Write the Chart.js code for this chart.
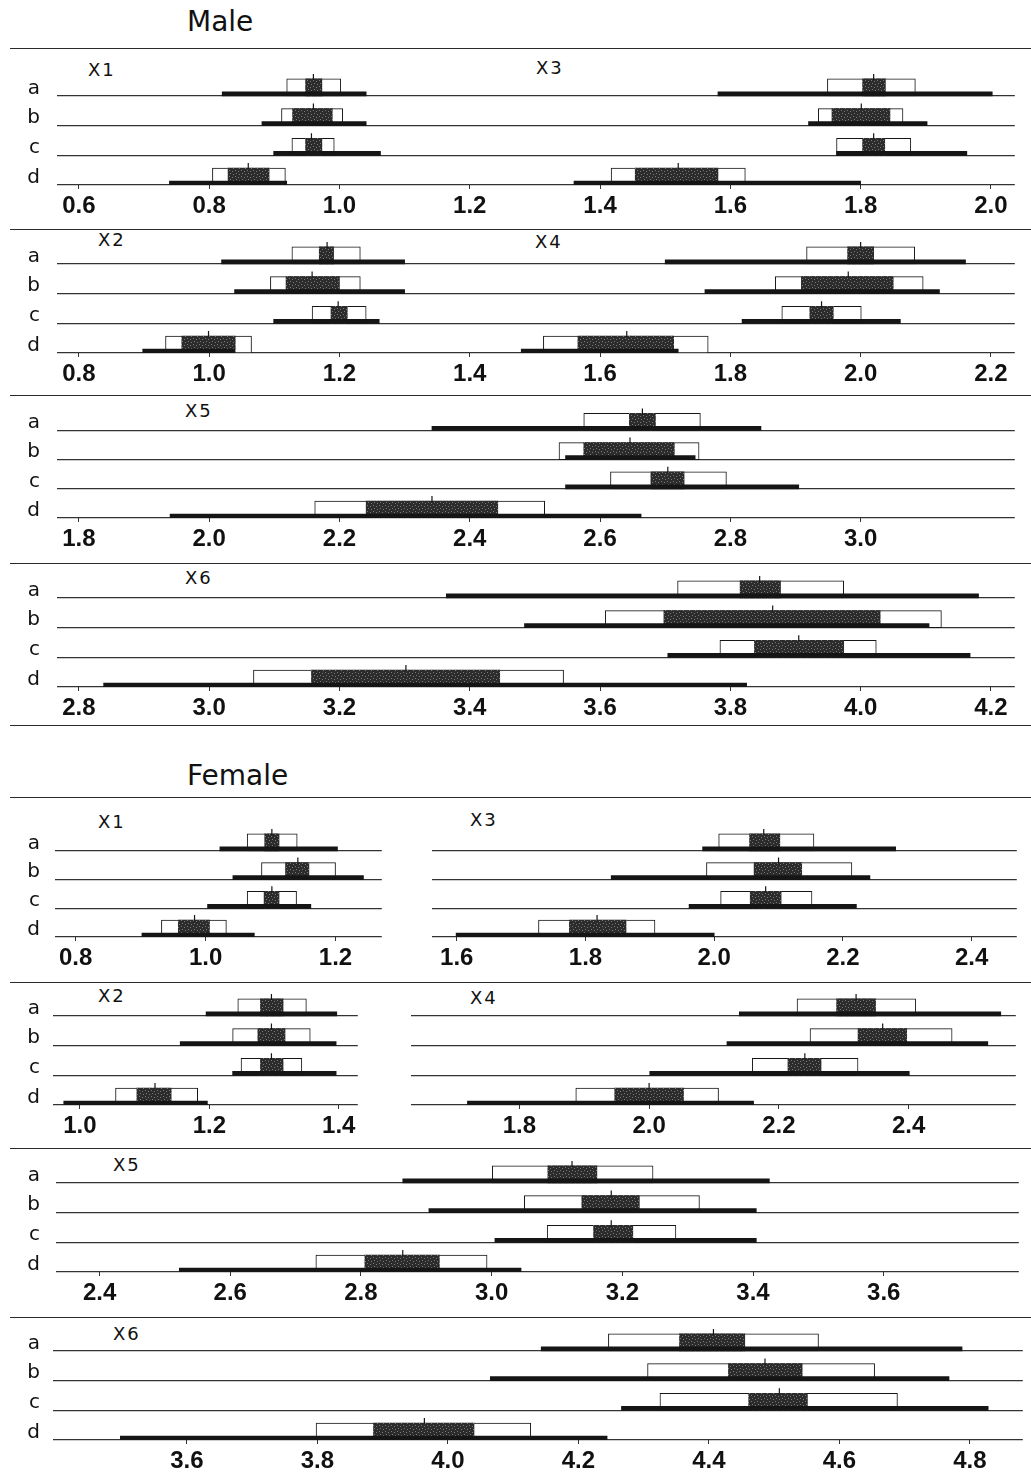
<!DOCTYPE html>
<html>
<head>
<meta charset="utf-8">
<script src="https://cdn.jsdelivr.net/npm/chart.js@4.4.1/dist/chart.umd.min.js"></script>
<style>
  html, body { margin: 0; padding: 0; background: #fff; }
  #page { position: relative; width: 1031px; height: 1479px; overflow: hidden; background: #fff; }
  .rule { position: absolute; left: 10px; width: 1021px; height: 0; border-top: 1.5px solid #2a2a2a; }
  .title { position: absolute; font-family: "DejaVu Sans"; font-size: 28px; line-height: 34px; color: #111; }
  .var { position: absolute; font-family: "DejaVu Sans"; font-size: 18px; line-height: 20px; color: #111; letter-spacing: 2px; }
  canvas { position: absolute; }
</style>
</head>
<body>
<div id="page"></div>
<script>
const rowLabels = ['a', 'b', 'c', 'd']

// ---- Male ----
const maleX1Range = [[0.820, 1.041], [0.881, 1.041], [0.899, 1.063], [0.739, 0.919]]
const maleX1Box   = [[0.919, 1.002], [0.911, 1.005], [0.927, 0.992], [0.805, 0.917]]
const maleX1Band  = [[0.948, 0.973], [0.928, 0.989], [0.948, 0.973], [0.829, 0.892]]
const maleX1Mean  = [0.960, 0.960, 0.957, 0.860]

const maleX3Range = [[1.581, 2.002], [1.720, 1.902], [1.763, 1.963], [1.360, 1.800]]
const maleX3Box   = [[1.749, 1.884], [1.735, 1.865], [1.763, 1.877], [1.417, 1.623]]
const maleX3Band  = [[1.803, 1.838], [1.756, 1.845], [1.803, 1.837], [1.454, 1.581]]
const maleX3Mean  = [1.820, 1.801, 1.820, 1.520]

const maleX2Range = [[1.019, 1.300], [1.039, 1.300], [1.099, 1.261], [0.898, 1.039]]
const maleX2Box   = [[1.127, 1.232], [1.094, 1.232], [1.158, 1.241], [0.933, 1.065]]
const maleX2Band  = [[1.169, 1.191], [1.118, 1.200], [1.187, 1.212], [0.958, 1.040]]
const maleX2Mean  = [1.181, 1.158, 1.198, 0.999]

const maleX4Range = [[1.700, 2.161], [1.761, 2.121], [1.818, 2.061], [1.479, 1.720]]
const maleX4Box   = [[1.917, 2.083], [1.869, 2.096], [1.879, 2.001], [1.513, 1.766]]
const maleX4Band  = [[1.980, 2.020], [1.909, 2.050], [1.922, 1.958], [1.566, 1.713]]
const maleX4Mean  = [2.000, 1.981, 1.940, 1.641]

const maleX5Range = [[2.342, 2.847], [2.547, 2.746], [2.547, 2.905], [1.940, 2.663]]
const maleX5Box   = [[2.575, 2.754], [2.537, 2.752], [2.616, 2.794], [2.162, 2.515]]
const maleX5Band  = [[2.645, 2.685], [2.575, 2.714], [2.678, 2.729], [2.241, 2.443]]
const maleX5Mean  = [2.665, 2.646, 2.704, 2.342]

const maleX6Range = [[3.364, 4.181], [3.484, 4.105], [3.704, 4.168], [2.838, 3.825]]
const maleX6Box   = [[3.719, 3.974], [3.608, 4.124], [3.784, 4.024], [3.068, 3.544]]
const maleX6Band  = [[3.815, 3.877], [3.698, 4.030], [3.837, 3.974], [3.157, 3.446]]
const maleX6Mean  = [3.845, 3.865, 3.905, 3.302]

// ---- Female ----
const femaleX1Range = [[1.022, 1.203], [1.042, 1.243], [1.003, 1.162], [0.902, 1.075]]
const femaleX1Box   = [[1.064, 1.141], [1.086, 1.200], [1.064, 1.140], [0.932, 1.032]]
const femaleX1Band  = [[1.091, 1.113], [1.123, 1.159], [1.090, 1.113], [0.958, 1.006]]
const femaleX1Mean  = [1.102, 1.142, 1.102, 0.983]

const femaleX3Range = [[1.982, 2.282], [1.840, 2.242], [1.961, 2.221], [1.599, 2.000]]
const femaleX3Box   = [[2.007, 2.155], [1.988, 2.214], [2.010, 2.152], [1.727, 1.908]]
const femaleX3Band  = [[2.055, 2.102], [2.062, 2.136], [2.056, 2.104], [1.775, 1.863]]
const femaleX3Mean  = [2.077, 2.100, 2.080, 1.818]

const femaleX2Range = [[1.195, 1.397], [1.155, 1.396], [1.236, 1.396], [0.975, 1.197]]
const femaleX2Box   = [[1.244, 1.350], [1.236, 1.356], [1.249, 1.343], [1.055, 1.182]]
const femaleX2Band  = [[1.279, 1.314], [1.275, 1.317], [1.279, 1.314], [1.088, 1.141]]
const femaleX2Mean  = [1.296, 1.296, 1.296, 1.116]

const femaleX4Range = [[2.139, 2.542], [2.120, 2.522], [2.001, 2.401], [1.720, 2.161]]
const femaleX4Box   = [[2.228, 2.411], [2.248, 2.467], [2.159, 2.322], [1.887, 2.107]]
const femaleX4Band  = [[2.289, 2.349], [2.322, 2.397], [2.214, 2.265], [1.947, 2.053]]
const femaleX4Mean  = [2.319, 2.360, 2.240, 2.000]

const femaleX5Range = [[2.864, 3.425], [2.904, 3.405], [3.005, 3.405], [2.522, 3.045]]
const femaleX5Box   = [[3.001, 3.247], [3.050, 3.318], [3.085, 3.282], [2.731, 2.993]]
const femaleX5Band  = [[3.086, 3.161], [3.138, 3.226], [3.156, 3.216], [2.806, 2.920]]
const femaleX5Mean  = [3.123, 3.183, 3.183, 2.864]

const femaleX6Range = [[4.143, 4.788], [4.065, 4.768], [4.266, 4.828], [3.498, 4.244]]
const femaleX6Box   = [[4.246, 4.568], [4.306, 4.654], [4.325, 4.689], [3.798, 4.127]]
const femaleX6Band  = [[4.355, 4.455], [4.430, 4.543], [4.461, 4.551], [3.886, 4.040]]
const femaleX6Mean  = [4.407, 4.486, 4.508, 3.964]

// tick labels
const maleTicks12 = [0.6, 0.8, 1.0, 1.2, 1.4, 1.6, 1.8, 2.0]
const maleTicks24 = [0.8, 1.0, 1.2, 1.4, 1.6, 1.8, 2.0, 2.2]
const maleTicks5  = [1.8, 2.0, 2.2, 2.4, 2.6, 2.8, 3.0]
const maleTicks6  = [2.8, 3.0, 3.2, 3.4, 3.6, 3.8, 4.0, 4.2]
const femaleTicks1 = [0.8, 1.0, 1.2]
const femaleTicks3 = [1.6, 1.8, 2.0, 2.2, 2.4]
const femaleTicks2 = [1.0, 1.2, 1.4]
const femaleTicks4 = [1.8, 2.0, 2.2, 2.4]
const femaleTicks5 = [2.4, 2.6, 2.8, 3.0, 3.2, 3.4, 3.6]
const femaleTicks6 = [3.6, 3.8, 4.0, 4.2, 4.4, 4.6, 4.8]

const ink = '#151515'
const axisH = 44

const page = document.getElementById('page')

function addText(cls, text, left, centerY, lh) {
  const d = document.createElement('div')
  d.className = cls
  d.textContent = text
  d.style.left = left + 'px'
  d.style.top = (centerY - lh / 2) + 'px'
  page.appendChild(d)
}

function addRule(y) {
  const d = document.createElement('div')
  d.className = 'rule'
  d.style.top = y + 'px'
  page.appendChild(d)
}

function stipple(ctx) {
  const c = document.createElement('canvas')
  c.width = 6; c.height = 6
  const g = c.getContext('2d')
  g.fillStyle = '#2c2c2c'
  g.fillRect(0, 0, 6, 6)
  g.fillStyle = '#7a7a7a'
  ;[[1, 1], [4, 2], [2, 4], [5, 5]].forEach(([x, y]) => g.fillRect(x, y, 1, 1))
  return ctx.createPattern(c, 'repeat')
}

// push every mark from the category centre down onto its row baseline
const liftPlugin = {
  id: 'lift',
  afterDatasetsUpdate(chart) {
    const y = chart.scales.y
    const half = (y.getPixelForValue(1) - y.getPixelForValue(0)) / 2
    chart.data.datasets.forEach((ds, i) => {
      chart.getDatasetMeta(i).data.forEach(el => { el.y = el.y + half - ds.lift })
    })
  }
}

function seriesSets(range, box, band, mean, pattern) {
  return [
    { type: 'bar', data: box, backgroundColor: '#fff', borderColor: ink, borderWidth: 1,
      borderSkipped: false, barThickness: 17, lift: 8.5, order: 4 },
    { type: 'bar', data: band, backgroundColor: pattern, borderWidth: 0,
      barThickness: 17, lift: 8.5, order: 3 },
    { type: 'bar', data: range, backgroundColor: ink, borderWidth: 0,
      barThickness: 4, lift: 2, order: 2 },
    { type: 'scatter', data: mean.map((m, i) => ({ x: m, y: rowLabels[i] })),
      pointStyle: 'line', rotation: 90, radius: 3, borderColor: ink, borderWidth: 1.2,
      lift: 19, order: 1 }
  ]
}

function makeChart(p) {
  const left = p.yLabels ? 0 : p.cl
  const top = p.bottom - 4 * p.rowH
  const w = p.cr - left
  const h = 4 * p.rowH + axisH
  const canvas = document.createElement('canvas')
  canvas.width = w; canvas.height = h
  canvas.style.left = left + 'px'
  canvas.style.top = top + 'px'
  canvas.style.width = w + 'px'
  canvas.style.height = h + 'px'
  page.appendChild(canvas)
  const ctx = canvas.getContext('2d')
  const pattern = stipple(ctx)

  const min = p.ref[0] + (p.cl - p.ref[1]) / p.k
  const max = p.ref[0] + (p.cr - p.ref[1]) / p.k

  new Chart(ctx, {
    type: 'bar',
    data: {
      labels: rowLabels,
      datasets: p.series.flatMap(s => seriesSets(...s, pattern))
    },
    plugins: [liftPlugin],
    options: {
      responsive: false,
      animation: false,
      events: [],
      indexAxis: 'y',
      layout: { padding: 0 },
      datasets: { bar: { grouped: false } },
      plugins: { legend: { display: false }, tooltip: { enabled: false } },
      scales: {
        x: {
          type: 'linear',
          min: min,
          max: max,
          afterBuildTicks: s => { s.ticks = p.ticks.map(v => ({ value: v })) },
          afterFit: s => {
            s.height = axisH
            s.paddingLeft = 0; s.paddingRight = 0; s.paddingTop = 0; s.paddingBottom = 0
          },
          border: { display: false },
          grid: { display: true, drawOnChartArea: false, drawTicks: true, tickLength: 4, color: '#333', lineWidth: 1 },
          ticks: {
            padding: 3,
            color: '#111',
            font: { family: 'Liberation Sans', size: 24, weight: 'bold' },
            callback: v => Number(v).toFixed(1),
            maxRotation: 0,
            autoSkip: false
          }
        },
        y: {
          type: 'category',
          offset: true,
          afterFit: s => {
            s.width = p.cl - left
            s.paddingLeft = 0; s.paddingRight = 0; s.paddingTop = 0; s.paddingBottom = 0
          },
          border: { display: false },
          grid: {
            offset: true,
            drawTicks: false,
            lineWidth: 1.2,
            color: c => (c.index === 0 ? 'rgba(0,0,0,0)' : '#333')
          },
          ticks: {
            display: p.yLabels,
            autoSkip: false,
            padding: p.cl - 40,
            labelOffset: p.rowH / 2 - 8,
            color: '#111',
            font: { family: 'DejaVu Sans', size: 20 }
          }
        }
      }
    }
  })
}

// titles, rules and variable names
addText('title', 'Male', 187, 22, 34)
addText('title', 'Female', 187, 776, 34)
;[48, 229, 395, 563, 725, 797, 982, 1148, 1317].forEach(addRule)

addText('var', 'X1', 88, 70, 20)
addText('var', 'X3', 536, 68, 20)
addText('var', 'X2', 98, 240, 20)
addText('var', 'X4', 535, 242, 20)
addText('var', 'X5', 185, 411, 20)
addText('var', 'X6', 185, 578, 20)
addText('var', 'X1', 98, 822, 20)
addText('var', 'X3', 470, 820, 20)
addText('var', 'X2', 98, 996, 20)
addText('var', 'X4', 470, 998, 20)
addText('var', 'X5', 113, 1165, 20)
addText('var', 'X6', 113, 1334, 20)

const panels = [
  { bottom: 185, rowH: 31, cl: 57, cr: 1020, ref: [1.4, 603], k: 655, yLabels: true, ticks: maleTicks12,
    series: [[maleX1Range, maleX1Box, maleX1Band, maleX1Mean], [maleX3Range, maleX3Box, maleX3Band, maleX3Mean]] },
  { bottom: 353, rowH: 31, cl: 57, cr: 1020, ref: [1.6, 603], k: 655, yLabels: true, ticks: maleTicks24,
    series: [[maleX2Range, maleX2Box, maleX2Band, maleX2Mean], [maleX4Range, maleX4Box, maleX4Band, maleX4Mean]] },
  { bottom: 518, rowH: 30.5, cl: 57, cr: 1020, ref: [2.6, 603], k: 655, yLabels: true, ticks: maleTicks5,
    series: [[maleX5Range, maleX5Box, maleX5Band, maleX5Mean]] },
  { bottom: 687, rowH: 31, cl: 57, cr: 1020, ref: [3.6, 603], k: 655, yLabels: true, ticks: maleTicks6,
    series: [[maleX6Range, maleX6Box, maleX6Band, maleX6Mean]] },
  { bottom: 937, rowH: 30, cl: 55, cr: 387, ref: [1.0, 208], k: 660, yLabels: true, ticks: femaleTicks1,
    series: [[femaleX1Range, femaleX1Box, femaleX1Band, femaleX1Mean]] },
  { bottom: 937, rowH: 30, cl: 427, cr: 1022, ref: [2.0, 714], k: 655, yLabels: false, ticks: femaleTicks3,
    series: [[femaleX3Range, femaleX3Box, femaleX3Band, femaleX3Mean]] },
  { bottom: 1105, rowH: 31, cl: 53, cr: 363, ref: [1.2, 212], k: 658, yLabels: true, ticks: femaleTicks2,
    series: [[femaleX2Range, femaleX2Box, femaleX2Band, femaleX2Mean]] },
  { bottom: 1105, rowH: 31, cl: 406, cr: 1021, ref: [2.0, 648], k: 660, yLabels: false, ticks: femaleTicks4,
    series: [[femaleX4Range, femaleX4Box, femaleX4Band, femaleX4Mean]] },
  { bottom: 1272, rowH: 31, cl: 56, cr: 1024, ref: [3.0, 494], k: 657, yLabels: true, ticks: femaleTicks5,
    series: [[femaleX5Range, femaleX5Box, femaleX5Band, femaleX5Mean]] },
  { bottom: 1440, rowH: 31, cl: 53, cr: 1028, ref: [4.0, 450], k: 656, yLabels: true, ticks: femaleTicks6,
    series: [[femaleX6Range, femaleX6Box, femaleX6Band, femaleX6Mean]] }
]

panels.forEach(makeChart)
</script>
</body>
</html>
